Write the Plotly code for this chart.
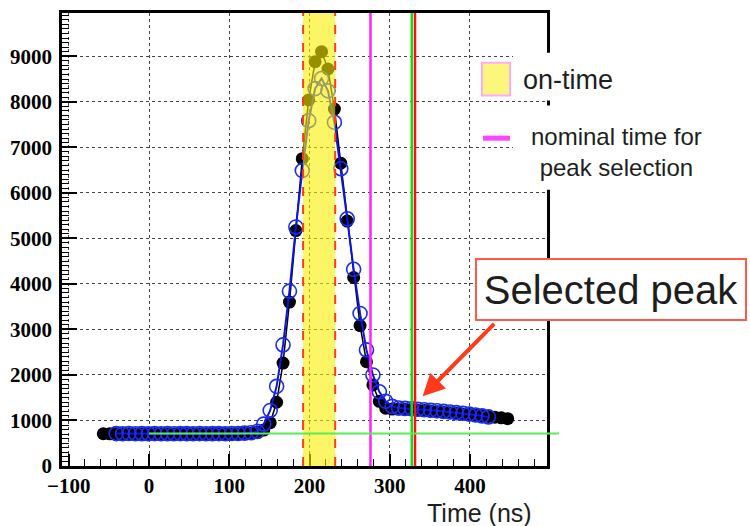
import plotly.graph_objects as go

# ---- data -------------------------------------------------------------
# sample times (ns) and amplitudes of the two waveforms
black_t = [-57, -49, -41, -33, -25, -17, -9, -1, 7, 15, 23, 31, 39, 47, 55, 63,
           71, 79, 87, 95, 103, 111, 119, 127, 135, 143, 151, 159, 167, 175, 183, 191,
           199, 207, 215, 223, 231, 239, 247, 255, 263, 271, 279, 287, 295, 303, 311, 319,
           327, 335, 343, 351, 359, 367, 375, 383, 391, 399, 407, 415, 423, 431, 439, 447]
black_y = [708, 706, 710, 707, 709, 705, 708, 706, 709, 707, 708, 705, 708, 710, 707, 708,
           706, 709, 708, 707, 710, 708, 712, 718, 740, 790, 950, 1400, 2260, 3600, 5170, 6750,
           8040, 8880, 9100, 8720, 7840, 6650, 5380, 4140, 3085, 2290, 1780, 1420, 1270, 1250, 1250, 1245,
           1238, 1228, 1218, 1206, 1194, 1182, 1170, 1157, 1144, 1131, 1117, 1103, 1088, 1073, 1058, 1040]

blue_t = [-41, -33, -25, -17, -9, -1, 7, 15, 23, 31, 39, 47, 55, 63, 71, 79,
          87, 95, 103, 111, 119, 127, 135, 143, 151, 159, 167, 175, 183, 191, 199, 207,
          215, 223, 231, 239, 247, 255, 263, 271, 279, 287, 295, 303, 311, 319, 327, 335,
          343, 351, 359, 367, 375, 383, 391, 399, 407, 415, 423]
blue_y = [712, 710, 713, 709, 711, 710, 712, 709, 711, 710, 712, 711, 709, 712, 710, 711,
          712, 710, 713, 715, 722, 730, 760, 920, 1220, 1750, 2660, 3840, 5250, 6490, 7585, 8290,
          8510, 8240, 7550, 6530, 5430, 4320, 3350, 2550, 2000, 1630, 1420, 1310, 1275, 1265, 1258, 1248,
          1237, 1225, 1212, 1199, 1186, 1172, 1158, 1140, 1120, 1100, 1078]

# reference times (ns) and baseline level
on_time = [192, 232]
nominal_time = 276
selected_green = 327.5
selected_red = 331.5
baseline_level = 712

XMIN, XMAX = -108.5, 496
YMIN, YMAX = 0, 9950

# ---- page geometry ----------------------------------------------------
W, H = 750, 526
ML, MR, MT, MB = 62, 203, 10, 60
PW, PH = W - ML - MR, H - MT - MB


def px(xp):
    return (xp - ML) / PW


def py(yp):
    return (H - MB - yp) / PH


fig = go.Figure()

fig.add_trace(go.Scatter(
    x=black_t, y=black_y, mode="lines+markers",
    line=dict(color="black", width=1.5),
    marker=dict(symbol="circle", size=13, color="black"),
    showlegend=False,
))
fig.add_trace(go.Scatter(
    x=blue_t, y=blue_y, mode="lines+markers",
    line=dict(color="#0a14e6", width=2),
    marker=dict(symbol="circle-open", size=14, color="#1a2cf0", line=dict(width=1.6)),
    showlegend=False,
))

shapes = []
# on-time window, tinted over the waveforms
shapes.append(dict(type="rect", xref="x", yref="paper", x0=on_time[0], x1=on_time[1], y0=0, y1=1,
                   fillcolor="rgba(250,238,0,0.6)", line=dict(width=0), layer="above"))
for t in on_time:
    shapes.append(dict(type="line", xref="x", yref="paper", x0=t, x1=t, y0=0, y1=1,
                       line=dict(color="#ff3c14", width=2, dash="dash"), layer="above"))
# nominal time for peak selection
shapes.append(dict(type="line", xref="x", yref="paper", x0=nominal_time, x1=nominal_time, y0=0, y1=1,
                   line=dict(color="#ff22ff", width=2.5), layer="above"))
# selected peak markers
shapes.append(dict(type="line", xref="x", yref="paper", x0=selected_green, x1=selected_green, y0=0, y1=1,
                   line=dict(color="#10dd10", width=2.5), layer="above"))
shapes.append(dict(type="line", xref="x", yref="paper", x0=selected_red, x1=selected_red, y0=0, y1=1,
                   line=dict(color="#ff1010", width=2.5), layer="above"))
# baseline level, running past the frame on the right
bx0 = (0 - XMIN) / (XMAX - XMIN)
by = (baseline_level - YMIN) / (YMAX - YMIN)
shapes.append(dict(type="line", xref="paper", yref="paper", x0=bx0, x1=px(559), y0=by, y1=by,
                   line=dict(color="#55ee55", width=2), layer="above"))

# legend panels
shapes.append(dict(type="rect", xref="paper", yref="paper", x0=px(513), x1=px(752), y0=py(98), y1=py(50),
                   fillcolor="white", line=dict(width=0), layer="above"))
shapes.append(dict(type="rect", xref="paper", yref="paper", x0=px(513), x1=px(752), y0=py(188), y1=py(103),
                   fillcolor="white", line=dict(width=0), layer="above"))
shapes.append(dict(type="rect", xref="paper", yref="paper", x0=px(482), x1=px(510), y0=py(93), y1=py(60),
                   fillcolor="#fdf67c", line=dict(color="#ffaaff", width=2), layer="above"))
shapes.append(dict(type="line", xref="paper", yref="paper", x0=px(483), x1=px(510), y0=py(136), y1=py(136),
                   line=dict(color="#ff44ff", width=5), layer="above"))

text_font = dict(family="Liberation Sans, Arial, sans-serif", color="#1e1e1e")

annotations = [
    dict(xref="paper", yref="paper", x=px(521), y=py(77), xanchor="left", yanchor="middle",
         text="on-time", showarrow=False, font=dict(size=27, **text_font)),
    dict(xref="paper", yref="paper", x=px(616), y=py(150), xanchor="center", yanchor="middle",
         text="nominal time for<br>peak selection", align="center", showarrow=False,
         font=dict(size=24, **text_font)),
    dict(xref="paper", yref="paper", x=px(611), y=py(288.5), xanchor="center", yanchor="middle",
         text="Selected peak", showarrow=False, width=268, height=59,
         bgcolor="white", bordercolor="#ff5a46", borderwidth=2, borderpad=0,
         font=dict(size=40, **text_font)),
    dict(xref="x", yref="y", x=341, y=1530, ax=73, ay=-74, text="", showarrow=True,
         arrowhead=2, arrowsize=1.1, arrowwidth=4, arrowcolor="#ff3a1a"),
    dict(xref="paper", yref="paper", x=px(479), y=py(513), xanchor="center", yanchor="middle",
         text="Time (ns)", showarrow=False, font=dict(size=25, **text_font)),
]

tick_font = dict(family="Liberation Serif, Times New Roman, serif", size=21, color="black", weight="bold")

fig.update_layout(
    width=W, height=H,
    margin=dict(l=ML, r=MR, t=MT, b=MB),
    paper_bgcolor="white", plot_bgcolor="white",
    showlegend=False,
    shapes=shapes,
    annotations=annotations,
    xaxis=dict(
        range=[XMIN, XMAX], tick0=0, dtick=100, ticks="inside", ticklen=12, tickwidth=1.5,
        tickcolor="black", showline=True, linecolor="black", linewidth=2.5, mirror=True,
        showgrid=True, gridcolor="#444", griddash="dot", gridwidth=1, zeroline=False,
        tickfont=tick_font, ticklabelstandoff=-1,
        minor=dict(dtick=20, ticks="inside", ticklen=7, tickwidth=1.2, tickcolor="black", showgrid=False),
    ),
    yaxis=dict(
        range=[YMIN, YMAX], tick0=0, dtick=1000, ticks="inside", ticklen=15, tickwidth=1.5,
        tickcolor="black", showline=True, linecolor="black", linewidth=2.5, mirror=True,
        showgrid=True, gridcolor="#444", griddash="dot", gridwidth=1, zeroline=False,
        tickformat="d", tickfont=tick_font, ticklabelstandoff=3,
        minor=dict(dtick=100, ticks="inside", ticklen=7, tickwidth=1.2, tickcolor="black", showgrid=False),
    ),
)

fig.write_html("out.html")
